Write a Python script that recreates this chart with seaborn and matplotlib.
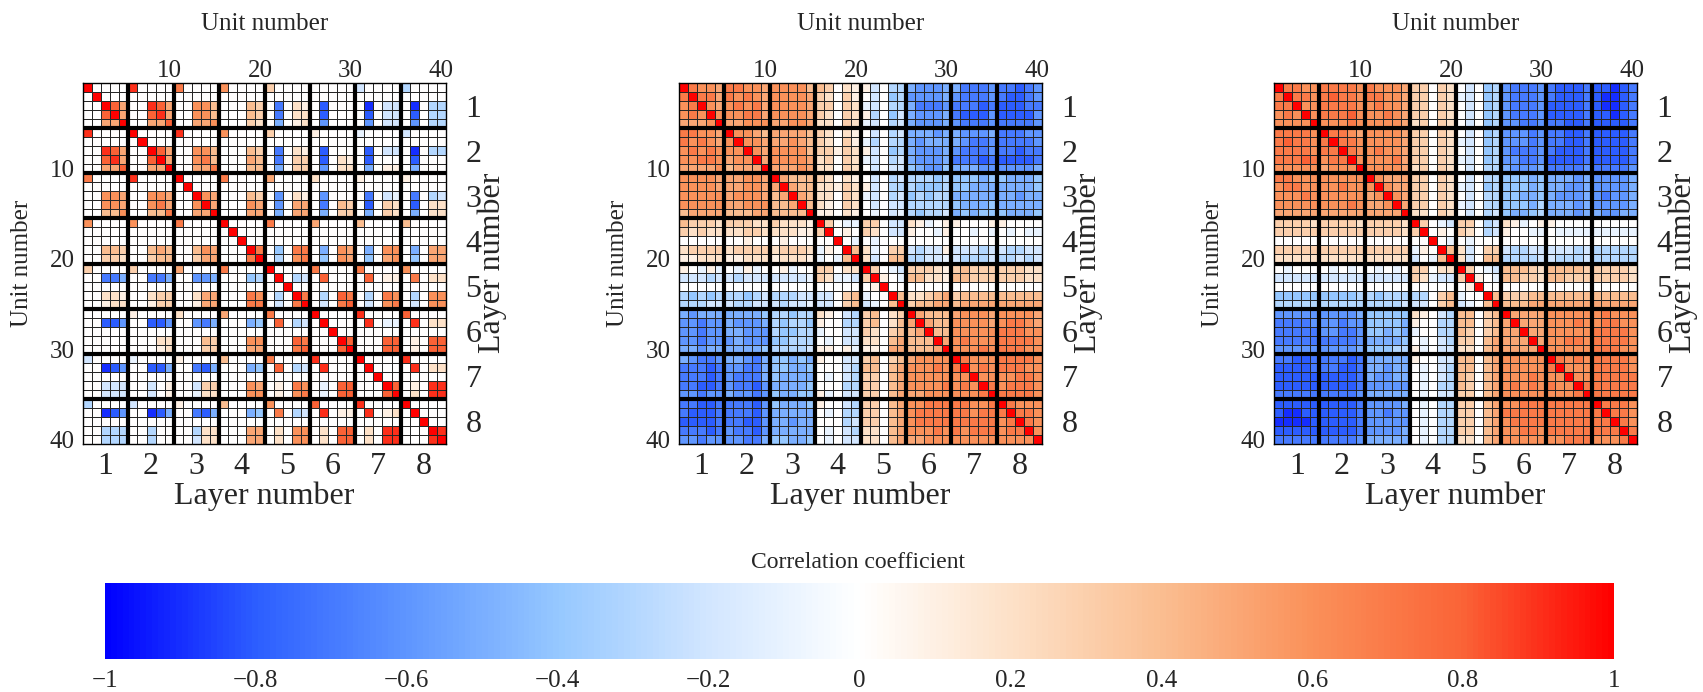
import numpy as np
import pandas as pd
import matplotlib
matplotlib.use("Agg")
import matplotlib.pyplot as plt
import seaborn as sns
from matplotlib.colors import LinearSegmentedColormap

sns.set_theme(style="white")
plt.rcParams["font.family"] = ["Liberation Serif", "DejaVu Serif"]
plt.rcParams["axes.unicode_minus"] = True

# ---------------- data ----------------
layer_numbers = [1, 2, 3, 4, 5, 6, 7, 8]
units_per_layer = 5
unit_ticks = [10, 20, 30, 40]
cbar_ticks = [-1, -0.8, -0.6, -0.4, -0.2, 0, 0.2, 0.4, 0.6, 0.8, 1]
cbar_labels = ["\u22121", "\u22120.8", "\u22120.6", "\u22120.4", "\u22120.2", "0",
               "0.2", "0.4", "0.6", "0.8", "1"]

# Lower triangle of each 40x40 correlation matrix, row by row.
# code: '0'..'9' = 0.0..0.9, 'X' = 1.0, 'a'..'j' = -0.1..-1.0
panel_left = [
    "X", "0X", "00X", "008X", "0055X",
    "90000 X", "00000 0X", "00985 00X", "00895 008X", "00558 0055X",
    "70000 90000 X", "00000 00000 0X", "00665 00665 00X", "00665 00675 006X", "00446 00447 0055X",
    "60000 60000 70000 X", "00000 00000 00000 0X", "00000 00000 00000 00X",
    "00443 00454 00465 000X", "00332 00344 00355 0007X",
    "30000 30000 50000 70000 X", "00gge 00gge 00ffe 000dc 0X", "00000 00000 00000 00000 00X",
    "00221 00233 00255 00076 0c0X", "00122 00133 00155 00077 0b07X",
    "00000 10000 20000 50000 70000 X", "00hhf 00hhf 00fge 000ed 080cb 0X",
    "00000 00000 00000 00000 00000 00X", "00000 00022 00043 00066 00087 000X",
    "00000 00012 00033 00055 00078 0008X",
    "b0000 a0000 10000 40000 70000 90000 X", "00ihf 00hhe 00ghe 000ed 080cb 09000 0X",
    "00000 00000 00000 00000 00000 00000 00X", "00bbb 00b01 00b33 00065 01076 0a088 000X",
    "00bbb 00b01 00a22 00066 01067 0a088 0008X",
    "c0000 b0000 10000 40000 60000 80000 90000 X",
    "00ihf 00ihe 00ghe 000ed 070cb 09011 09012 0X",
    "00000 00000 00000 00000 00000 00000 00000 00X",
    "00ccc 00c00 00c22 00055 02066 02088 02099 000X",
    "00ccc 00c00 00b22 00055 02066 02088 02099 0009X",
]

panel_middle = [
    "X", "7X", "67X", "676X", "5556X",
    "77665 X", "76765 6X", "67676 66X", "66776 566X", "55556 4555X",
    "66665 55665 X", "66665 55665 5X", "66666 56665 45X", "66666 55666 445X", "45555 44455 4444X",
    "43332 33322 32221 X", "32322 22332 22211 3X", "00000 00100 01000 00X",
    "23333 23333 23332 a10X", "11222 11222 12221 a0a4X",
    "10a1a 0a1a0 01a00 33022 X", "bbbcb bcbbb bbbba 32aab 3X", "00000 00000 00000 00000 01X",
    "cdcdc ccdcb cccbb bb034 a00X", "cccbb bccbb bcbba bb034 ba04X",
    "efeee eeeed ccdcc 210bc 34023 X", "ffgff efffe cdccd 100cc 34024 5X",
    "ffgff eefff cddcc a00bb 32034 45X", "ffgff fefff ddccc 0a0bb 22045 444X",
    "eefee eeeed ccccb 1101a 11055 4445X",
    "efggf eefge ddede 100bb 34034 56666 X", "ggghg ffgge ddeed 000bc 44045 66676 7X",
    "ggghg fggge deeee 0a0bc 33045 66666 66X", "gghhg fgghf eeeed 000cc 33045 66667 676X",
    "ffgff effgf deedd 1a0bb 33045 55666 6667X",
    "gghhg ggghf deeed 100bc 33045 66777 77667 X", "ghhhg ggghf eeeee 0a0cc 33045 67777 77677 7X",
    "hhhhg gghhf eefee 000cb 33045 67777 77777 67X", "ggghg fgghf eeeee 0a0bc 22045 66676 76777 677X",
    "ffgff ffgge ddeed 0a0bb 22045 55666 66666 6666X",
]

panel_right = [
    "X", "7X", "77X", "676X", "6666X",
    "77776 X", "78776 7X", "77776 77X", "77787 677X", "66666 5666X",
    "77666 66666 X", "67766 66766 6X", "66676 66666 56X", "66666 66676 556X", "55555 55555 5555X",
    "33332 33332 33332 X", "33333 33333 33332 3X", "00000 00000 00000 00X",
    "33333 33333 33333 a10X", "22222 22222 22222 b0a4X",
    "0a000 0a0a0 0a0a0 33022 X", "bbbbb bbbbb bbbbb 32abb 3X", "00000 00000 00000 00000 01X",
    "ddddd ddddc cdccc cc034 a00X", "ccccc ccccc ccccb bb034 ba04X",
    "fffff ffffe ddddd 210bc 44034 X", "ggggf ffgff dddde 100cc 44034 5X",
    "ggggg ffggf ddede a00cc 43034 55X", "ggggg ggggf eeeed 0a0bc 33045 555X",
    "fffff ffffe dddcc 1a0bb 22045 5555X",
    "gghhg ggghg eeeee 100bb 44045 66666 X", "hhhhg gghhg eefee 0a0bc 44045 66666 7X",
    "hhhhh hhhhg effee 0a0bc 43045 66676 66X", "hhhhh hhhhg fffff 0a0cc 43045 67676 766X",
    "ggggg ggggf eeeee 0a0bb 33045 66666 6667X",
    "hhhhh hhhhg ffffe 0a0cc 33045 66777 77777 X", "hiihh hhhhg ffgff 0a0cc 33045 77777 77777 7X",
    "iiiih hhhhg fffff 0a0cc 33045 67777 77777 77X", "hhhhh hhhhg ffffe 0a0cc 33045 66776 77777 777X",
    "ggggg ggggf eeeee 0a0cc 22045 66666 66777 6667X",
]

CODE = {str(d): d / 10 for d in range(10)}
CODE["X"] = 1.0
for k, ch in enumerate("abcdefghij"):
    CODE[ch] = -(k + 1) / 10


def decode(rows):
    n = len(rows)
    m = np.zeros((n, n))
    for i, r in enumerate(rows):
        s = r.replace(" ", "")
        assert len(s) == i + 1, (i, s)
        for j, ch in enumerate(s):
            m[i, j] = CODE[ch]
            m[j, i] = CODE[ch]
    return m


# ---------------- colormap ----------------
nodes = [
    (0.0, (0, 0, 255)), (0.1, (45, 95, 255)), (0.2, (95, 150, 255)),
    (0.3, (150, 200, 255)), (0.4, (210, 230, 255)), (0.5, (255, 255, 255)),
    (0.6, (253, 225, 200)), (0.7, (250, 190, 145)), (0.8, (250, 145, 90)),
    (0.9, (250, 100, 55)), (1.0, (255, 0, 0)),
]
cmap = LinearSegmentedColormap.from_list(
    "corr", [(p, tuple(c / 255 for c in rgb)) for p, rgb in nodes])

# ---------------- figure ----------------
W, H = 1703, 692
fig = plt.figure(figsize=(W / 100, H / 100), dpi=100)
panel_x0 = [83, 679, 1274]
py0, py1 = 83, 444
pw = 363

n_units = len(layer_numbers) * units_per_layer
unit_index = list(range(1, n_units + 1))
layer_centres = [(L - 1) * units_per_layer + units_per_layer / 2 for L in layer_numbers]
unit_pos = [u - 0.5 for u in unit_ticks]

mesh = None
for rows, x0 in zip([panel_left, panel_middle, panel_right], panel_x0):
    df = pd.DataFrame(decode(rows), index=unit_index, columns=unit_index)
    ax = fig.add_axes([x0 / W, (H - py1) / H, pw / W, (py1 - py0) / H])
    sns.heatmap(df, ax=ax, cmap=cmap, vmin=-1, vmax=1, cbar=False,
                linewidths=0.7, linecolor="#262626",
                xticklabels=False, yticklabels=False)
    mesh = ax.collections[0]
    for b in range(units_per_layer, n_units, units_per_layer):
        ax.axhline(b, color="black", lw=3.0)
        ax.axvline(b, color="black", lw=3.0)
    for sp in ax.spines.values():
        sp.set_visible(True)
        sp.set_color("black")
        sp.set_linewidth(1.0)

    ax.set_xticks(layer_centres)
    ax.set_xticklabels([str(L) for L in layer_numbers])
    ax.set_yticks(unit_pos)
    ax.set_yticklabels([str(u) for u in unit_ticks], rotation=0)
    ax.tick_params(axis="x", length=0, pad=6, labelsize=23)
    ax.tick_params(axis="y", length=0, pad=6, labelsize=18)

    secx = ax.secondary_xaxis("top")
    secx.set_xticks(unit_pos, labels=[str(u) for u in unit_ticks])
    secx.tick_params(length=0, pad=1, labelsize=18)
    secx.spines["top"].set_visible(False)

    secy = ax.secondary_yaxis("right")
    secy.set_yticks(layer_centres, labels=[str(L) for L in layer_numbers])
    secy.tick_params(length=0, pad=14, labelsize=23)
    secy.spines["right"].set_visible(False)

    fig.text((x0 + pw / 2) / W, 1 - 24 / H, "Unit number",
             ha="center", va="center", fontsize=18)
    fig.text((x0 - 61) / W, 1 - 263 / H, "Unit number", rotation=90,
             ha="center", va="center", fontsize=18)
    fig.text((x0 + pw / 2) / W, 1 - 496 / H, "Layer number",
             ha="center", va="center", fontsize=23)
    fig.text((x0 + 409) / W, 1 - 263 / H, "Layer number", rotation=90,
             ha="center", va="center", fontsize=23)

# ---------------- colorbar ----------------
cax = fig.add_axes([105 / W, (H - 659) / H, 1509 / W, 76 / H])
cb = fig.colorbar(mesh, cax=cax, orientation="horizontal")
cb.outline.set_visible(False)
cb.set_ticks(cbar_ticks, labels=cbar_labels)
cax.tick_params(length=0, pad=8, labelsize=18)
fig.text(858 / W, 1 - 563 / H, "Correlation coefficient",
         ha="center", va="center", fontsize=17)

fig.savefig("out.png", dpi=100)
